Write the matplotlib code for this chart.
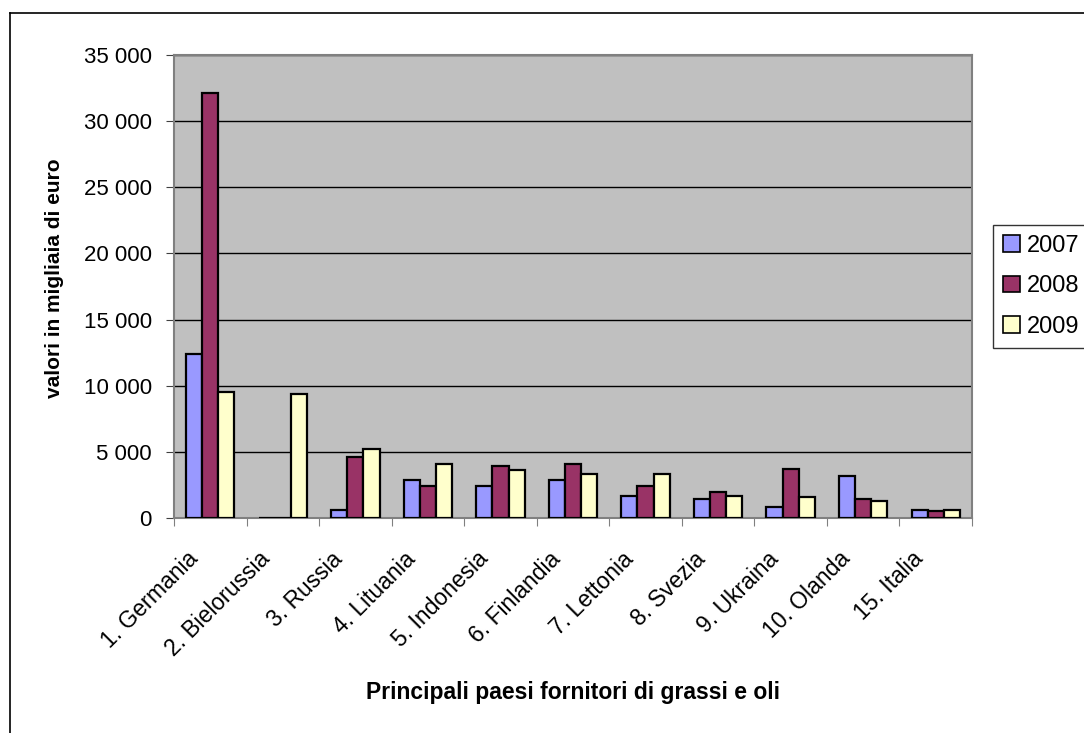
import matplotlib.pyplot as plt
import matplotlib.patches as mpatches
import matplotlib.transforms as mtransforms
import numpy as np

plt.rcParams['font.family'] = ['Liberation Sans', 'DejaVu Sans']

# dati (migliaia di euro)
paesi = ["1. Germania", "2. Bielorussia", "3. Russia", "4. Lituania", "5. Indonesia",
         "6. Finlandia", "7. Lettonia", "8. Svezia", "9. Ukraina", "10. Olanda", "15. Italia"]
anni = ["2007", "2008", "2009"]
v2007 = [12400, 0, 600, 2900, 2450, 2900, 1700, 1400, 800, 3200, 630]
v2008 = [32100, 0, 4600, 2450, 3950, 4100, 2450, 2000, 3680, 1400, 500]
v2009 = [9500, 9400, 5200, 4100, 3650, 3350, 3350, 1700, 1560, 1250, 630]
colori = ["#9999FF", "#993366", "#FFFFCC"]

fig = plt.figure(figsize=(10.84, 7.33), dpi=100)
ax = fig.add_axes([174/1084, 1-518/733, (972-174)/1084, (518-55)/733])
ax.set_facecolor("#C0C0C0")

x = np.arange(len(paesi))
w = 1/4.5
for i, (vals, col) in enumerate(zip([v2007, v2008, v2009], colori)):
    ax.bar(x + (i-1)*w, vals, width=w, color=col, edgecolor="black", linewidth=1.6,
           label=anni[i], zorder=3)

ax.set_xlim(-0.5, len(paesi)-0.5)
ax.set_ylim(0, 35000)
ax.set_yticks(range(0, 35001, 5000))
ax.set_yticklabels([f"{v:,}".replace(",", " ") for v in range(0, 35001, 5000)], fontsize=16)
ax.yaxis.grid(True, color="black", linewidth=1, zorder=1)
ax.set_axisbelow(True)

ax.set_xticks(np.arange(len(paesi)+1) - 0.5)
ax.set_xticklabels([])
ax.set_xticks(x, minor=True)
ax.set_xticklabels(paesi, minor=True, rotation=45, ha="right", va="center",
                   rotation_mode="anchor", fontsize=16.5)
ax.tick_params(axis="x", which="minor", length=0, pad=27)
ax.tick_params(axis="x", which="major", length=6, color="#808080", direction="out")
ax.tick_params(axis="y", length=6, color="#404040", pad=10)
# spostamento etichette a sinistra (dopo tick_params, che resetta le trasformazioni)
shift = mtransforms.ScaledTranslation(-16/100, 0, fig.dpi_scale_trans)
for lab in ax.get_xticklabels(minor=True):
    lab.set_transform(lab.get_transform() + shift)
for s in ax.spines.values():
    s.set_color("#808080")
    s.set_linewidth(1.5)

fig.text(573/1084, 1-692/733, "Principali paesi fornitori di grassi e oli",
         ha="center", va="center", fontsize=16.5, fontweight="bold")
fig.text(55/1084, 1-278/733, "valori in migliaia di euro", rotation=90,
         ha="center", va="center", fontsize=15, fontweight="bold")

handles = [mpatches.Patch(facecolor=c, edgecolor="black", linewidth=1.2) for c in colori]
leg = fig.legend(handles, anni, loc="upper left", bbox_to_anchor=(993/1084, 1-225/733),
                 fontsize=17, frameon=True, fancybox=False, handlelength=0.72,
                 handleheight=0.72, handletextpad=0.3, labelspacing=0.78,
                 borderpad=0.42, borderaxespad=0)
leg.get_frame().set_edgecolor("black")
leg.get_frame().set_linewidth(1)

# cornice esterna
fig.add_artist(plt.Line2D([10/1084, 10/1084], [0, 1-13/733], color="black", linewidth=1.2))
fig.add_artist(plt.Line2D([10/1084, 1], [1-13/733, 1-13/733], color="black", linewidth=1.2))

fig.savefig("out.png", dpi=100)
